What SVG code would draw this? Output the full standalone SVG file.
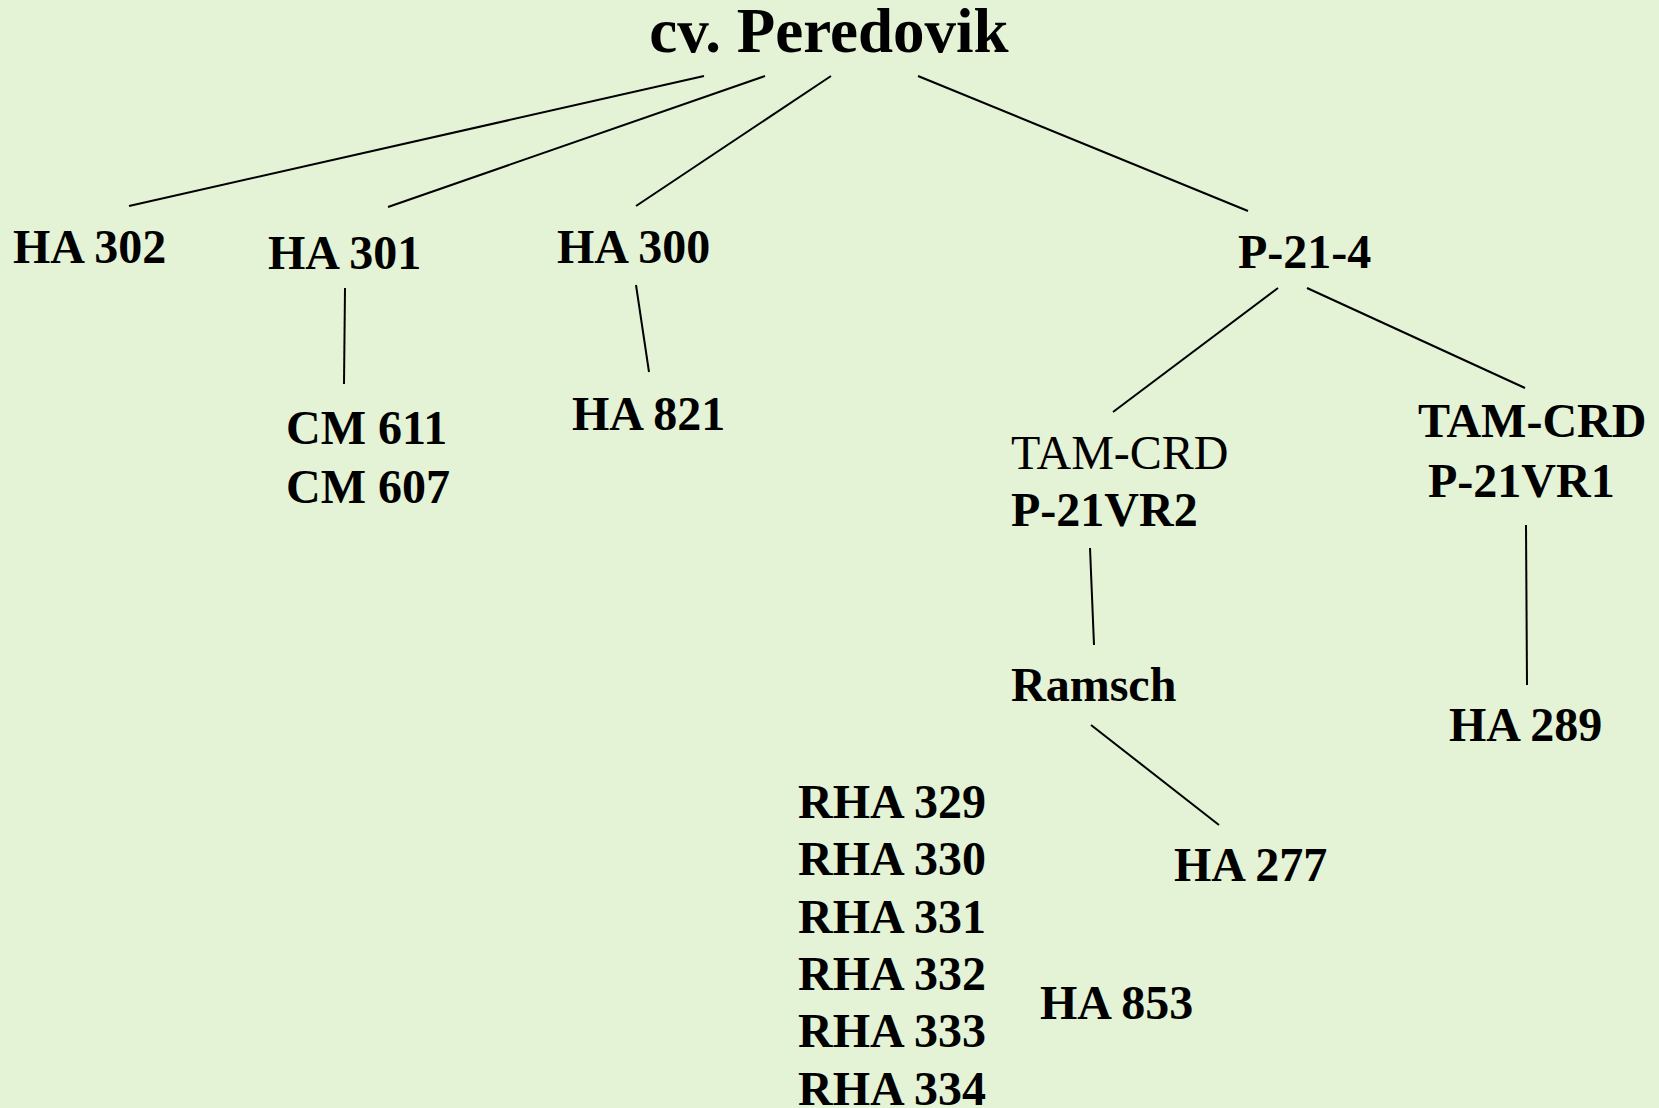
<svg xmlns="http://www.w3.org/2000/svg" width="1659" height="1108" viewBox="0 0 1659 1108">
<style>
.t{font-family:"Liberation Serif","Times New Roman",serif;font-size:48px;font-weight:bold;fill:#000}
.n{font-weight:normal}
.title{font-size:63px}
.c line{stroke:#000;stroke-width:2}
</style>
<rect width="1659" height="1108" fill="#E4F2D5"/>
<g class="c" id="connectors">
<line x1="704" y1="76" x2="129" y2="206"/>
<line x1="765" y1="76" x2="388" y2="207"/>
<line x1="831" y1="76" x2="636" y2="206"/>
<line x1="918" y1="76" x2="1248" y2="211"/>
<line x1="345" y1="288" x2="344" y2="384"/>
<line x1="636" y1="285" x2="649" y2="372"/>
<line x1="1278" y1="288" x2="1113" y2="412"/>
<line x1="1307" y1="288" x2="1525" y2="388"/>
<line x1="1090" y1="548" x2="1094" y2="645"/>
<line x1="1526" y1="525" x2="1527" y2="685"/>
<line x1="1091" y1="725" x2="1219" y2="825"/>
</g>
<g id="root"><text class="t title" x="829" y="52" text-anchor="middle">cv. Peredovik</text></g>
<g id="ha302"><text class="t" x="13" y="263">HA 302</text></g>
<g id="ha301"><text class="t" x="268" y="269">HA 301</text></g>
<g id="ha300"><text class="t" x="557" y="263">HA 300</text></g>
<g id="p214"><text class="t" x="1238" y="268">P-21-4</text></g>
<g id="cm"><text class="t" x="286" y="444">CM 611</text><text class="t" x="286" y="503">CM 607</text></g>
<g id="ha821"><text class="t" x="572" y="430">HA 821</text></g>
<g id="vr2"><text class="t n" x="1011" y="469">TAM-CRD</text><text class="t" x="1011" y="526">P-21VR2</text></g>
<g id="vr1"><text class="t" x="1418" y="437">TAM-CRD</text><text class="t" x="1428" y="497">P-21VR1</text></g>
<g id="ramsch"><text class="t" x="1011" y="701">Ramsch</text></g>
<g id="ha289"><text class="t" x="1449" y="741">HA 289</text></g>
<g id="ha277"><text class="t" x="1174" y="881">HA 277</text></g>
<g id="rha"><text class="t" x="798" y="818">RHA 329</text><text class="t" x="798" y="875">RHA 330</text><text class="t" x="798" y="933">RHA 331</text><text class="t" x="798" y="990">RHA 332</text><text class="t" x="798" y="1047">RHA 333</text><text class="t" x="798" y="1105">RHA 334</text></g>
<g id="ha853"><text class="t" x="1040" y="1019">HA 853</text></g>
</svg>
